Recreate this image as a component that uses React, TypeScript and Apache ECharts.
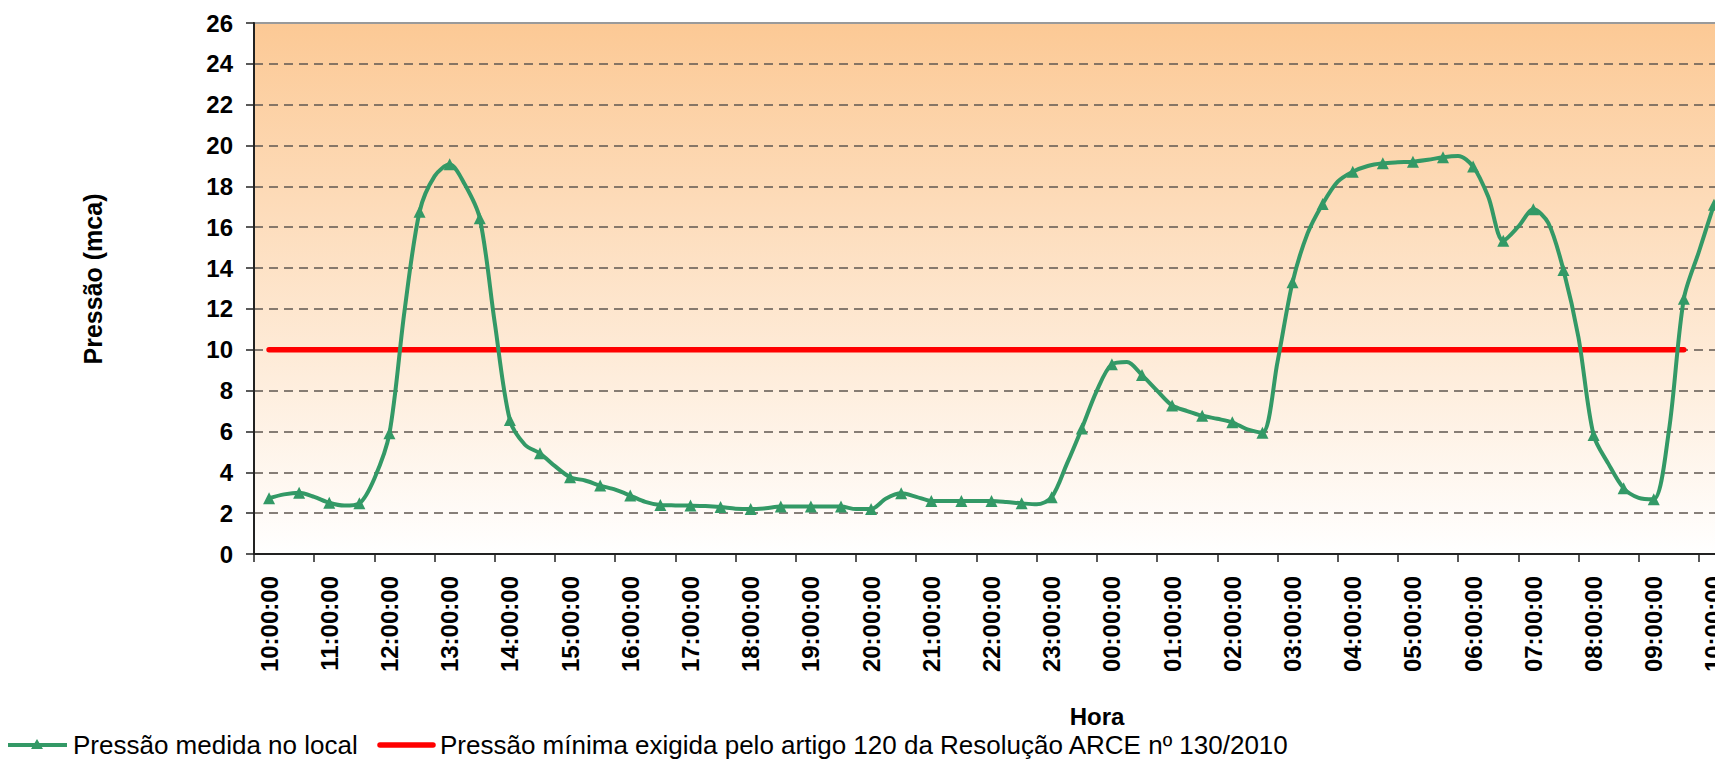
import React, { useEffect, useRef } from "react";
import * as echarts from "echarts";

// Categories (every 30 min)
const horas = [
  "10:00:00", "10:30:00", "11:00:00", "11:30:00", "12:00:00", "12:30:00", "13:00:00", "13:30:00",
  "14:00:00", "14:30:00", "15:00:00", "15:30:00", "16:00:00", "16:30:00", "17:00:00", "17:30:00",
  "18:00:00", "18:30:00", "19:00:00", "19:30:00", "20:00:00", "20:30:00", "21:00:00", "21:30:00",
  "22:00:00", "22:30:00", "23:00:00", "23:30:00", "00:00:00", "00:30:00", "01:00:00", "01:30:00",
  "02:00:00", "02:30:00", "03:00:00", "03:30:00", "04:00:00", "04:30:00", "05:00:00", "05:30:00",
  "06:00:00", "06:30:00", "07:00:00", "07:30:00", "08:00:00", "08:30:00", "09:00:00", "09:30:00",
  "10:00:00",
];

// Measured pressure at each half hour (markers)
const pressaoMedida = [
  2.73, 3.0, 2.51, 2.48, 5.91, 16.76, 19.08, 16.44,
  6.56, 4.93, 3.76, 3.35, 2.86, 2.4, 2.37, 2.3,
  2.2, 2.32, 2.32, 2.32, 2.2, 2.97, 2.6, 2.6,
  2.6, 2.48, 2.78, 6.15, 9.29, 8.76, 7.27, 6.77,
  6.45, 5.94, 13.3, 17.14, 18.72, 19.13, 19.21, 19.43,
  18.97, 15.34, 16.88, 13.91, 5.83, 3.22, 2.68, 12.5,
  17.1,
];

// Readings between markers (quarter past / quarter to)
const pressaoIntermediaria = [
  2.92, 2.8, 2.37, 3.7, 11.9, 18.5, 18.1, 11.3,
  5.35, 4.3, 3.6, 3.15, 2.55, 2.38, 2.35, 2.22,
  2.24, 2.32, 2.32, 2.2, 2.72, 2.8, 2.6, 2.6,
  2.55, 2.43, 4.4, 8.0, 9.4, 8.0, 7.0, 6.62,
  6.1, 9.4, 15.7, 18.23, 19.0, 19.18, 19.3, 19.49,
  17.5, 16.03, 16.2, 10.6, 4.4, 2.75, 6.0, 14.8,
];

// Minimum required pressure (Resolução ARCE nº 130/2010)
const pressaoMinima = [
  10, 10, 10, 10, 10, 10, 10, 10, 10, 10, 10, 10,
  10, 10, 10, 10, 10, 10, 10, 10, 10, 10, 10, 10,
  10, 10, 10, 10, 10, 10, 10, 10, 10, 10, 10, 10,
  10, 10, 10, 10, 10, 10, 10, 10, 10, 10, 10, 10,
];

const yMin = 0;
const yMax = 26;
const yStep = 2;

const serieMedida = "Pressão medida no local";
const serieMinima = "Pressão mínima exigida pelo artigo 120 da Resolução ARCE nº 130/2010";

const FONT = "'Liberation Sans', Arial, sans-serif";
const GREEN = "#339966";
const RED = "#FF0000";

export default function App() {
  const ref = useRef<HTMLDivElement>(null);

  useEffect(() => {
    if (!ref.current) return;
    const chart = echarts.init(ref.current, undefined, { renderer: "svg" });

    const greenData: any[] = [];
    pressaoMedida.forEach((v, i) => {
      greenData.push({ value: [i, v] });
      if (i < pressaoIntermediaria.length) {
        greenData.push({ value: [i + 0.5, pressaoIntermediaria[i]], symbol: "none" });
      }
    });

    const legendY = 745;

    const option: any = {
      animation: false,
      backgroundColor: "#ffffff",
      textStyle: { fontFamily: FONT },
      grid: {
        left: 254,
        top: 23,
        width: 1475,
        height: 531,
        show: true,
        borderColor: "#9a9a9a",
        borderWidth: 2,
        backgroundColor: new echarts.graphic.LinearGradient(0, 0, 0, 1, [
          { offset: 0, color: "#FCC995" },
          { offset: 1, color: "#FFFFFF" },
        ]),
      },
      legend: { show: false },
      xAxis: [
        {
          type: "category",
          data: horas,
          boundaryGap: true,
          axisLine: { show: true, onZero: false, lineStyle: { color: "#222", width: 2 } },
          axisTick: { show: true, interval: 1, length: 8, alignWithLabel: false, lineStyle: { color: "#222", width: 1.5 } },
          axisLabel: {
            interval: 1,
            rotate: 90,
            margin: 22,
            fontSize: 24,
            fontWeight: "bold",
            color: "#000",
            fontFamily: FONT,
          },
          splitLine: { show: false },
        },
        {
          type: "value",
          min: -0.5,
          max: horas.length - 0.5,
          show: false,
          splitLine: { show: false },
        },
      ],
      yAxis: {
        type: "value",
        min: yMin,
        max: yMax,
        interval: yStep,
        axisLine: { show: true, onZero: false, lineStyle: { color: "#222", width: 2 } },
        axisTick: { show: true, length: 8, lineStyle: { color: "#222", width: 1.5 } },
        axisLabel: { margin: 21, fontSize: 24, fontWeight: "bold", color: "#000", fontFamily: FONT },
        splitLine: {
          show: true,
          showMaxLine: false,
          lineStyle: { color: "#5f5750", width: 1.5, type: [9, 6] },
        },
      },
      graphic: [
        {
          type: "text",
          x: 93,
          y: 279,
          rotation: Math.PI / 2,
          style: {
            text: "Pressão (mca)",
            font: `bold 25px ${FONT}`,
            fill: "#000",
            align: "center",
            verticalAlign: "middle",
          },
        },
        {
          type: "text",
          x: 1097,
          y: 716,
          style: {
            text: "Hora",
            font: `bold 24px ${FONT}`,
            fill: "#000",
            align: "center",
            verticalAlign: "middle",
          },
        },
        // legend: measured pressure
        {
          type: "line",
          shape: { x1: 8, y1: legendY, x2: 67, y2: legendY },
          style: { stroke: GREEN, lineWidth: 4 },
        },
        {
          type: "polygon",
          shape: { points: [[37, legendY - 6], [31, legendY + 4], [43, legendY + 4]] },
          style: { fill: GREEN },
        },
        {
          type: "text",
          x: 73,
          y: legendY,
          style: {
            text: serieMedida,
            font: `26px ${FONT}`,
            fill: "#000",
            align: "left",
            verticalAlign: "middle",
          },
        },
        // legend: minimum pressure
        {
          type: "line",
          shape: { x1: 380, y1: legendY, x2: 433, y2: legendY },
          style: { stroke: RED, lineWidth: 5.5, lineCap: "round" },
        },
        {
          type: "text",
          x: 440,
          y: legendY,
          style: {
            text: serieMinima,
            font: `26px ${FONT}`,
            fill: "#000",
            align: "left",
            verticalAlign: "middle",
          },
        },
      ],
      series: [
        {
          name: serieMedida,
          type: "line",
          xAxisIndex: 1,
          data: greenData,
          smooth: 0.3,
          symbol: "triangle",
          symbolSize: 12,
          showAllSymbol: true,
          lineStyle: { color: GREEN, width: 4 },
          itemStyle: { color: GREEN },
          z: 3,
        },
        {
          name: serieMinima,
          type: "line",
          xAxisIndex: 0,
          data: pressaoMinima,
          symbol: "none",
          lineStyle: { color: RED, width: 5.5, cap: "round" },
          itemStyle: { color: RED },
          z: 2,
        },
      ],
    };

    chart.setOption(option);
    return () => chart.dispose();
  }, []);

  return (
    <div
      style={{
        position: "fixed",
        left: 0,
        top: 0,
        width: "100vw",
        height: "100vh",
        overflow: "hidden",
        background: "#fff",
      }}
    >
      <div ref={ref} style={{ width: 1760, height: 761 }} />
    </div>
  );
}
